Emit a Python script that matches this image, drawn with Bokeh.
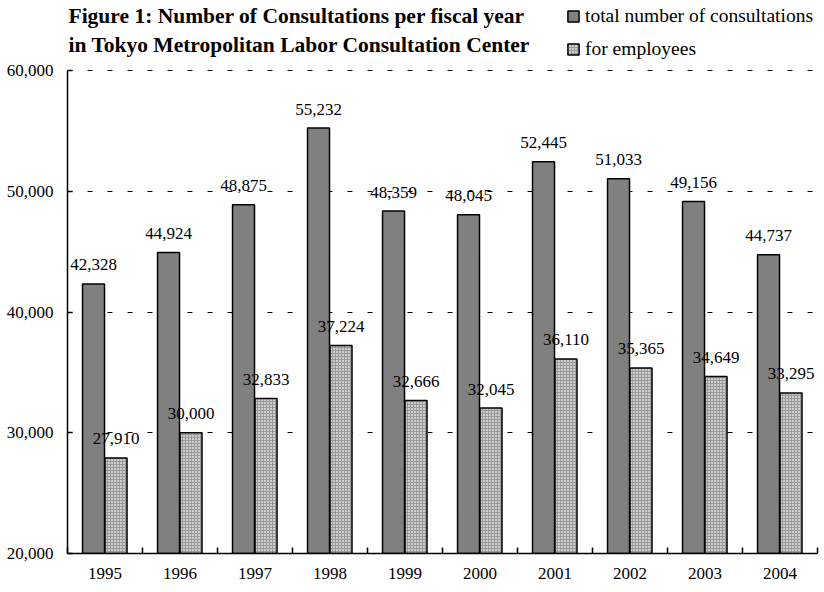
import numpy as np
from bokeh.plotting import figure
from bokeh.models import (ColumnDataSource, FixedTicker, NumeralTickFormatter, Range1d,
                          LabelSet, Label, Legend, LegendItem)
from bokeh.core.properties import value
from bokeh.embed import file_html
from bokeh.resources import INLINE

years = ["1995", "1996", "1997", "1998", "1999", "2000", "2001", "2002", "2003", "2004"]
total = [42328, 44924, 48875, 55232, 48359, 48045, 52445, 51033, 49156, 44737]
employees = [27910, 30000, 32833, 37224, 32666, 32045, 36110, 35365, 34649, 33295]
y_ticks = [20000, 30000, 40000, 50000, 60000]

FONT = "Liberation Serif"
Y0, Y1 = 20000, 60000
PLOT_H, FRAME_H = 483, 553   # value-axis height and full frame height in px (frame holds title too)
idx = np.arange(len(years))
src = ColumnDataSource(dict(
    xt=idx + 0.5 - 0.153, xe=idx + 0.5 + 0.147,
    total=total, emp=employees,
    tl=[f"{v:,}" for v in total], el=[f"{v:,}" for v in employees],
))

p = figure(width=824, height=592, output_backend="svg", toolbar_location=None,
           x_range=Range1d(0, len(years)),
           y_range=Range1d(Y0, Y0 + (Y1 - Y0) * FRAME_H / PLOT_H),
           min_border_left=67, min_border_right=7, min_border_top=0, min_border_bottom=39)
p.outline_line_color = None
p.background_fill_color = "white"
p.border_fill_color = "white"

r1 = p.vbar(x="xt", top="total", bottom=Y0, width=0.293, source=src,
            fill_color="#808080", line_color="black", line_width=1.5)
r2 = p.vbar(x="xe", top="emp", bottom=Y0, width=0.293, source=src,
            fill_color="#cecece", line_color="black", line_width=1.5,
            hatch_pattern="cross", hatch_scale=3, hatch_color="#999999", hatch_weight=1)

p.add_layout(LabelSet(x="xt", y="total", text="tl", source=src, text_align="center",
                      text_baseline="middle", y_offset=19, text_font=value(FONT),
                      text_font_size="17px", text_color="black"))
p.add_layout(LabelSet(x="xe", y="emp", text="el", source=src, text_align="center",
                      text_baseline="middle", y_offset=19, text_font=value(FONT),
                      text_font_size="17px", text_color="black"))

# axes
p.xaxis.ticker = FixedTicker(ticks=list(idx + 0.5), minor_ticks=list(range(len(years) + 1)))
p.xaxis.major_label_overrides = {float(i + 0.5): y for i, y in enumerate(years)}
p.xaxis.major_tick_in = 0
p.xaxis.major_tick_out = 0
p.xaxis.minor_tick_in = 6
p.xaxis.minor_tick_out = 0
p.xaxis.minor_tick_line_color = "black"
p.xaxis.minor_tick_line_width = 1.5
p.xaxis.axis_line_width = 1.5
p.xaxis.major_label_standoff = 14
p.xgrid.visible = False

p.yaxis.ticker = FixedTicker(ticks=y_ticks)
p.yaxis.formatter = NumeralTickFormatter(format="0,0")
p.yaxis.bounds = (Y0, Y1)
p.yaxis.major_tick_in = 5
p.yaxis.major_tick_out = 0
p.yaxis.minor_tick_line_color = None
p.yaxis.axis_line_width = 1.5
p.yaxis.major_tick_line_width = 1.5
p.yaxis.major_label_standoff = 14

for ax in (p.xaxis, p.yaxis):
    ax.major_label_text_font = FONT
    ax.major_label_text_font_size = "17px"
    ax.major_label_text_color = "black"
    ax.axis_line_color = "black"
    ax.major_tick_line_color = "black"

p.ygrid.grid_line_color = "black"
p.ygrid.grid_line_dash = "5 15"
p.ygrid.grid_line_width = 1

# screen units are relative to the plot frame's bottom-left corner
p.add_layout(Label(x=1, y=538, x_units="screen", y_units="screen",
                   text="Figure 1: Number of Consultations per fiscal year",
                   text_font=FONT, text_font_style="bold", text_font_size="21.5px",
                   text_color="black", text_baseline="middle"))
p.add_layout(Label(x=1, y=509, x_units="screen", y_units="screen",
                   text="in Tokyo Metropolitan Labor Consultation Center",
                   text_font=FONT, text_font_style="bold", text_font_size="21.5px",
                   text_color="black", text_baseline="middle"))

legend = Legend(items=[LegendItem(label="total number of consultations", renderers=[r1]),
                       LegendItem(label="for employees", renderers=[r2])],
                location=(499, 493))
legend.label_text_font = FONT
legend.label_text_font_size = "19.5px"
legend.label_text_color = "black"
legend.glyph_width = 14
legend.glyph_height = 14
legend.label_standoff = 5
legend.spacing = 11
legend.padding = 0
legend.margin = 0
legend.border_line_color = None
legend.background_fill_alpha = 0
p.add_layout(legend)

open("out.html", "w").write(file_html(p, INLINE))
